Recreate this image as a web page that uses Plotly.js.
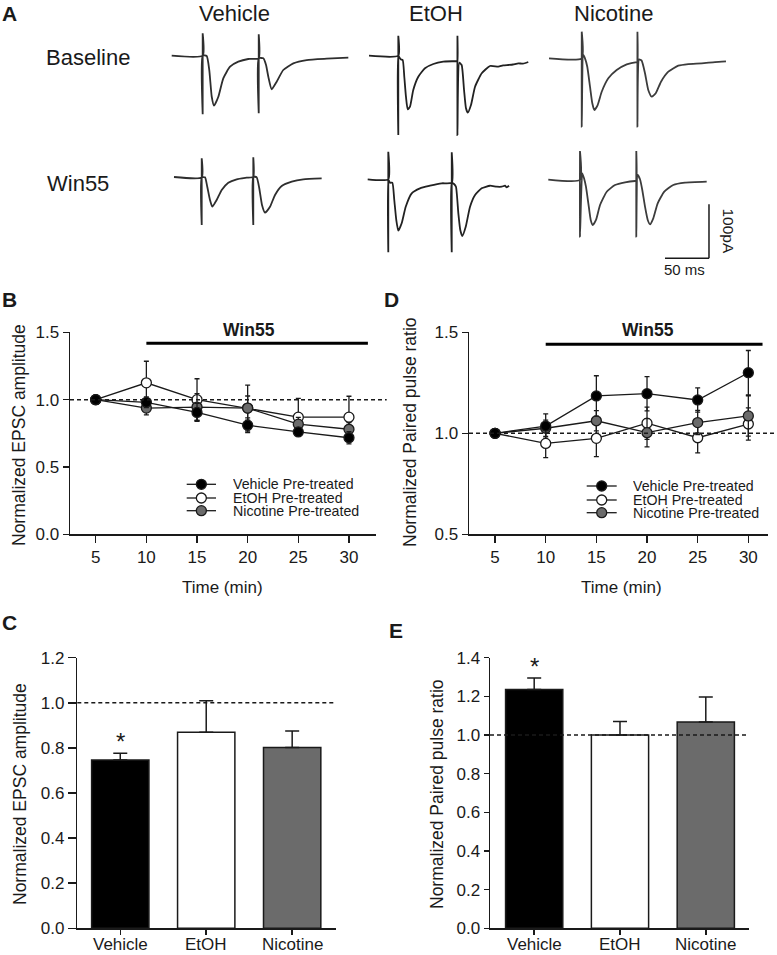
<!DOCTYPE html>
<html><head><meta charset="utf-8">
<script src="https://cdn.plot.ly/plotly-3.0.1.min.js"></script>
<style>html,body{margin:0;padding:0;background:#fff}#chart{width:777px;height:955px}</style>
</head><body><div id="chart"></div>
<script>
// ---------- Panel A: example EPSC traces (time in ms, current in pA, relative to baseline) ----------
const vehBaseT = [0,35.2,35.2,35.2,35.2,39.8,42.7,45.5,48.1,53,58.6,66.3,75.7,87,98.9,98.9,98.9,98.9,104.1,107.2,109.8,113.6,119.3,126.8,138.2,153.4,176.1,200.7];
const vehBaseI = [0,0,41.5,-108.5,0,-0.5,-26.5,-76,-92.6,-76,-41.9,-20.3,-11.1,-6.1,-4.9,39.6,-106.7,-4.9,-4.9,-17.2,-38.9,-62.2,-48.1,-26.5,-14.1,-8,-5.6,-3.7];
const vehWinT = [0,31.5,31.5,31.5,31.5,35.2,37.8,40.9,43.5,48.5,54.2,61.7,71.3,82.6,90.1,90.1,90.1,90.1,94,96.9,100,103.4,109.1,114.8,122.4,133.8,146.9,167.8];
const vehWinI = [0,-0.6,34.6,-88.9,-0.6,-0.6,-18,-42.6,-55,-42.6,-24.1,-10.6,-4.3,-1.3,0.4,36.5,-88.9,0.4,-0.6,-20.9,-51.9,-66.1,-55,-33.3,-16.7,-8.7,-4.3,-2.4];
const etoBaseT = [0,33.3,33.3,33.3,33.3,36,38.3,40.1,42,44,46.6,50.3,56,63.6,73.1,84.4,99.7,100.5,100.5,100.5,102.6,105.3,108,110.2,112.2,115.9,120.5,128.1,137.5,146.9,152.3,158.3,163.6,169.7,175,181];
const etoBaseI = [0,0,37,-146.9,0,-6.7,-8,-38.9,-75.9,-99.3,-94.4,-63.5,-38.9,-23.3,-15.4,-11.1,-9.8,-9.8,37,-146.9,-13,-17.2,-63.5,-97.4,-105.6,-91.3,-57.4,-32.6,-19.1,-20.4,-18.1,-17.2,-16.3,-14.1,-14.8,-11.7];
const etoWinT = [0,23.4,23.4,23.4,23.4,25.3,28,30.2,32.5,34.8,38.6,43.2,50,59.4,70.8,84.1,95.5,95.5,95.5,95.5,98.1,100.3,103,105.2,107.5,111.4,116.3,122,129.5,139,146.6,152.3,156,158,160.6];
const etoWinI = [0,0,51.1,-135.2,0,-6.3,-6.3,-38.3,-75.4,-95.2,-81.5,-50.7,-25.9,-16.7,-11.9,-7.4,-6.3,50,-135.2,-6.3,-8.7,-13.7,-63,-93.9,-105,-87.8,-50.7,-29.1,-16.7,-11.9,-13.7,-13.7,-11.9,-14.8,-11.9];
const nicBaseT = [0,37.2,37.2,37.2,39,40.9,43.5,46.6,49.2,51.5,55.3,59.9,67.4,76.9,88.3,99.7,100.5,100.5,100.5,102.4,105.3,109.1,112.8,116.7,121.3,127.3,135.6,146.9,158.3,173.5,188.6,201.1];
const nicBaseI = [0,0,49.3,-126.7,6.1,0,-15.6,-52.6,-83.3,-95.7,-86.5,-61.9,-37,-21.7,-11.1,-6.9,-6.9,49.3,-126.7,-1.9,-4.4,-27.8,-58.7,-71.1,-64.8,-43.3,-24.8,-13.7,-10.6,-9.3,-6.9,-5.6];
const nicWinT = [0,36,36,36,38.6,40.6,42.8,45.5,48.2,50.5,54.2,58.8,66.4,75.8,87.2,98.5,100,100,100,101.6,104.2,106.8,109.9,113,115.6,119.3,124.3,131.8,142,155.3,180];
const nicWinI = [0,-0.7,53,-105.7,11.7,2.4,-13.1,-43.9,-74.8,-84.1,-74.8,-47,-22.4,-10,-5,-2.6,-2.6,53,-105.7,8.5,0.6,-19.3,-50.2,-74.8,-82.8,-71.7,-43.9,-22.4,-10,-5.7,-3.9];
const scaleBarMs = 50, scaleBarPA = 100;
const columnLabels = ['Vehicle','EtOH','Nicotine'];
const rowLabels = ['Baseline','Win55'];

// ---------- Panels B & D: time course ----------
const timeMin = [5,10,15,20,25,30];
const epscVehicle    = [1.0,0.98,0.905,0.81,0.76,0.717];
const epscVehicleErr = [0,0.04,0.067,0.055,0.02,0.045];
const epscEtOH       = [1.0,1.125,1.0,0.937,0.87,0.87];
const epscEtOHErr    = [0,0.16,0.155,0.17,0.14,0.155];
const epscNicotine   = [1.0,0.937,0.945,0.937,0.818,0.78];
const epscNicotineErr= [0,0.05,0.1,0.09,0.05,0.05];
const pprVehicle     = [1.0,1.036,1.185,1.196,1.165,1.30];
const pprVehicleErr  = [0,0.06,0.1,0.085,0.06,0.11];
const pprEtOH        = [1.0,0.95,0.975,1.05,0.978,1.046];
const pprEtOHErr     = [0,0.07,0.09,0.08,0.075,0.08];
const pprNicotine    = [1.0,1.025,1.062,1.003,1.053,1.086];
const pprNicotineErr = [0,0.04,0.05,0.07,0.06,0.1];
const seriesNames = ['Vehicle Pre-treated','EtOH Pre-treated','Nicotine Pre-treated'];
const win55Start = 10, win55EndB = 31.87, win55EndD = 31.4;

// ---------- Panels C & E: summary bars ----------
const groups = ['Vehicle','EtOH','Nicotine'];
const epscMean = [0.746,0.869,0.802];
const epscSem  = [0.03,0.14,0.073];
const pprMean  = [1.235,1.0,1.067];
const pprSem   = [0.06,0.07,0.13];

// ---------- layout helpers ----------
const W = 777, H = 955;
const px = x => x / W, py = y => 1 - y / H;
const FONT = 'Liberation Sans, Arial, Helvetica, sans-serif';
const INK = '#1a1a1a';
const GREY = '#6b6b6b';
const fills = ['#000000', '#ffffff', GREY];
const MS_PX = 0.88, PA_PX = 0.54;

const traces = [];
const layout = {
  width: W, height: H, margin: {l:0, r:0, t:0, b:0},
  paper_bgcolor: '#fff', plot_bgcolor: 'rgba(0,0,0,0)',
  showlegend: false, font: {family: FONT, color: INK},
  shapes: [], annotations: []
};

// Panel A subplots
const aPanels = [
  {t: vehBaseT, i: vehBaseI, anchor: [171.7, 55.7], color: '#2e2e2e'},
  {t: vehWinT,  i: vehWinI,  anchor: [174, 177],    color: '#2e2e2e'},
  {t: etoBaseT, i: etoBaseI, anchor: [369, 55.7],   color: '#222'},
  {t: etoWinT,  i: etoWinI,  anchor: [367.7, 179.3],color: '#222'},
  {t: nicBaseT, i: nicBaseI, anchor: [549, 58.3],   color: '#3c3c3c'},
  {t: nicWinT,  i: nicWinI,  anchor: [548.3, 179.6],color: '#3c3c3c'}
];
aPanels.forEach((p, k) => {
  const n = k + 5;
  const [x0, yb] = p.anchor;
  const L = x0 - 5, R = x0 + 215, T = yb - 35, B = yb + 90;
  layout['xaxis' + n] = {domain: [px(L), px(R)], range: [(L - x0) / MS_PX, (R - x0) / MS_PX], visible: false, anchor: 'y' + n};
  layout['yaxis' + n] = {domain: [py(B), py(T)], range: [-(B - yb) / PA_PX, (yb - T) / PA_PX], visible: false, anchor: 'x' + n};
  traces.push({x: p.t, y: p.i, xaxis: 'x' + n, yaxis: 'y' + n, type: 'scatter', mode: 'lines',
    line: {color: p.color, width: 1.8, shape: 'spline', smoothing: 0.5}, hoverinfo: 'skip'});
});
// scale bar on the last (Nicotine / Win55) trace axes
const sbT = 182.6, sbI = -145.7;
layout.shapes.push({type: 'line', xref: 'x10', yref: 'y10', x0: sbT - scaleBarMs, x1: sbT, y0: sbI, y1: sbI, line: {color: INK, width: 1.5}});
layout.shapes.push({type: 'line', xref: 'x10', yref: 'y10', x0: sbT, x1: sbT, y0: sbI, y1: sbI + scaleBarPA, line: {color: INK, width: 1.5}});

// axis common style
const axBase = {showgrid: false, zeroline: false, showline: true, linecolor: INK, linewidth: 1.5,
  ticks: 'outside', ticklen: 6, tickwidth: 1.5, tickcolor: INK, tickfont: {family: FONT, size: 17, color: INK}, fixedrange: true};

// Panel B axes (x, y)
layout.xaxis = Object.assign({}, axBase, {domain: [px(70), px(376)], range: [2.46, 32.67], tickvals: timeMin, anchor: 'y', ticklen: 7});
layout.yaxis = Object.assign({}, axBase, {domain: [py(534.3), py(332.3)], range: [0, 1.5], tickvals: [0, 0.5, 1.0, 1.5], tickformat: '.1f', anchor: 'x'});
// Panel D axes (x2, y2)
layout.xaxis2 = Object.assign({}, axBase, {domain: [px(469), px(768)], range: [2.43, 31.94], tickvals: timeMin, anchor: 'y2', ticklen: 7});
layout.yaxis2 = Object.assign({}, axBase, {domain: [py(534.3), py(332.3)], range: [0.5, 1.5], tickvals: [0.5, 1.0, 1.5], tickformat: '.1f', anchor: 'x2'});
// Panel C axes (x3, y3) - category labels drawn as annotations below
layout.xaxis3 = Object.assign({}, axBase, {domain: [px(77.3), px(336)], range: [-0.5, 2.51], type: 'category', anchor: 'y3', ticklen: 5, showticklabels: false});
layout.yaxis3 = Object.assign({}, axBase, {domain: [py(928.3), py(657.7)], range: [0, 1.2], dtick: 0.2, tickformat: '.1f', anchor: 'x3', ticklen: 8});
// Panel E axes (x4, y4)
layout.xaxis4 = Object.assign({}, axBase, {domain: [px(490), px(749.3)], range: [-0.515, 2.507], type: 'category', anchor: 'y4', ticklen: 5, showticklabels: false});
layout.yaxis4 = Object.assign({}, axBase, {domain: [py(928.3), py(657.7)], range: [0, 1.4], dtick: 0.2, tickformat: '.1f', anchor: 'x4', ticklen: 5});

// time course series (draw EtOH, Nicotine, then Vehicle on top)
function tc(y, err, fill, xa, ya) {
  return {x: timeMin, y: y, xaxis: xa, yaxis: ya, type: 'scatter', mode: 'lines+markers', cliponaxis: false,
    line: {color: INK, width: 1.3}, marker: {size: 10, color: fill, line: {color: INK, width: 1.3}},
    error_y: {type: 'data', array: err, visible: true, color: INK, thickness: 1.3, width: 2.5}, hoverinfo: 'skip'};
}
const order = [1, 2, 0];
const epscY = [epscVehicle, epscEtOH, epscNicotine], epscE = [epscVehicleErr, epscEtOHErr, epscNicotineErr];
const pprY = [pprVehicle, pprEtOH, pprNicotine], pprE = [pprVehicleErr, pprEtOHErr, pprNicotineErr];
order.forEach(k => traces.push(tc(epscY[k], epscE[k], fills[k], 'x', 'y')));
order.forEach(k => traces.push(tc(pprY[k], pprE[k], fills[k], 'x2', 'y2')));

// bars
function bars(y, err, xa, ya) {
  return {x: groups, y: y, xaxis: xa, yaxis: ya, type: 'bar', width: 0.667,
    marker: {color: fills, line: {color: INK, width: 1.5}},
    error_y: {type: 'data', array: err, arrayminus: err.map(() => 0), symmetric: false, visible: true, color: INK, thickness: 1.5, width: 7},
    hoverinfo: 'skip'};
}
traces.push(bars(epscMean, epscSem, 'x3', 'y3'));
traces.push(bars(pprMean, pprSem, 'x4', 'y4'));

// dashed reference lines at 1.0
const dash = '4px,3px';
[['y', 70, 386.7], ['y2', 469, 776], ['y3', 77.3, 334], ['y4', 490, 748]].forEach(([ya, a, b]) => {
  layout.shapes.push({type: 'line', xref: 'paper', yref: ya, x0: px(a), x1: px(b), y0: 1, y1: 1, layer: 'above', line: {color: INK, width: 1.5, dash: dash}});
});
// Win55 application bars
layout.shapes.push({type: 'line', xref: 'x', yref: 'y', x0: win55Start, x1: win55EndB, y0: 1.418, y1: 1.418, line: {color: '#000', width: 3}});
layout.shapes.push({type: 'line', xref: 'x2', yref: 'y2', x0: win55Start, x1: win55EndD, y0: 1.4406, y1: 1.4406, line: {color: '#000', width: 3}});

// manual legends (rows packed tightly, as in the original figure)
function legend(lineX0, lineX1, textX, rows) {
  rows.forEach((ry, k) => {
    layout.shapes.push({type: 'line', xref: 'paper', yref: 'paper', x0: px(lineX0), x1: px(lineX1), y0: py(ry), y1: py(ry), line: {color: INK, width: 1.3}});
    const cx = (lineX0 + lineX1) / 2;
    layout.shapes.push({type: 'circle', xref: 'paper', yref: 'paper', xsizemode: 'pixel', ysizemode: 'pixel',
      xanchor: px(cx), yanchor: py(ry), x0: -5, x1: 5, y0: -5, y1: 5, fillcolor: fills[k], line: {color: INK, width: 1.3}});
    layout.annotations.push({xref: 'paper', yref: 'paper', x: px(textX), y: py(ry), xanchor: 'left', yanchor: 'middle',
      height: 12, borderpad: 0, valign: 'middle',
      text: seriesNames[k], showarrow: false, font: {family: FONT, size: 14.2, color: INK}});
  });
}
legend(186.7, 216, 231.7, [484.3, 498, 510.7]);
legend(586.7, 616.7, 631.7, [486, 500, 512.7]);

// text annotations
function txt(text, x, y, size, opts) {
  layout.annotations.push(Object.assign({xref: 'paper', yref: 'paper', x: px(x), y: py(y), xanchor: 'center', yanchor: 'middle',
    text: text, showarrow: false, font: {family: FONT, size: size, color: INK}}, opts || {}));
}
// bar category labels (from groups, positioned under the category ticks)
groups.forEach((g, k) => {
  layout.annotations.push({xref: 'x3', yref: 'paper', x: g, y: py(944.5), xanchor: 'center', yanchor: 'middle', text: g, showarrow: false, font: {family: FONT, size: 17, color: INK}});
  layout.annotations.push({xref: 'x4', yref: 'paper', x: g, y: py(944.5), xanchor: 'center', yanchor: 'middle', text: g, showarrow: false, font: {family: FONT, size: 17, color: INK}});
});
// panel letters
txt('<b>A</b>', 9, 14, 21); txt('<b>B</b>', 9, 299, 21); txt('<b>C</b>', 9, 622, 21);
txt('<b>D</b>', 392, 299, 21); txt('<b>E</b>', 396, 630, 21);
// panel A labels
[234, 436, 613].forEach((x, k) => txt(columnLabels[k], x, 14, 22));
txt(rowLabels[0], 87.5, 57, 22); txt(rowLabels[1], 78, 183, 22);
txt(scaleBarMs + ' ms', 684, 270, 15);
txt(scaleBarPA + 'pA', 728, 230.5, 15.5, {textangle: 90});
// axis titles
txt('Normalized EPSC amplitude', 19, 435, 17.5, {textangle: -90});
txt('Normalized Paired pulse ratio', 410, 432, 17.5, {textangle: -90});
txt('Normalized EPSC amplitude', 20, 794, 17.5, {textangle: -90});
txt('Normalized Paired pulse ratio', 437, 794, 17.5, {textangle: -90});
txt('Time (min)', 222.5, 587, 17); txt('Time (min)', 621.7, 587, 17);
txt('<b>Win55</b>', 249, 330, 17.5); txt('<b>Win55</b>', 648, 330, 17.5);
// significance asterisks
txt('*', 120.3, 741, 24); txt('*', 534.2, 666, 24);

Plotly.newPlot('chart', traces, layout, {displayModeBar: false, staticPlot: true});
</script>
</body></html>
